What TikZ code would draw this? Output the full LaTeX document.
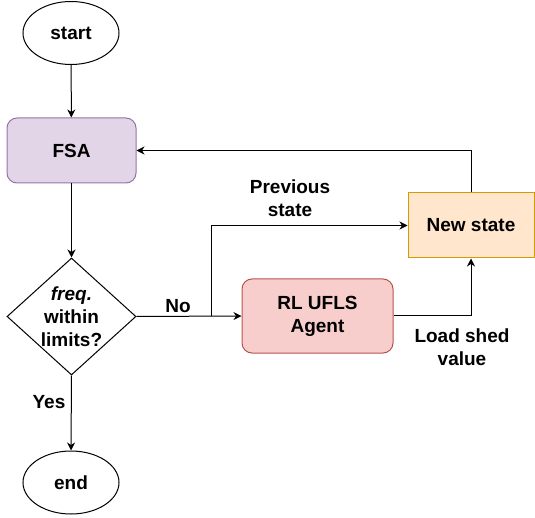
\documentclass[tikz,border=0pt]{standalone}
\usepackage{fontspec}
\setmainfont{Liberation Sans}
\usetikzlibrary{shapes.geometric,arrows.meta}
\definecolor{fsafill}{HTML}{E1D5E7}
\definecolor{fsaline}{HTML}{9673A6}
\definecolor{agentfill}{HTML}{F8CECC}
\definecolor{agentline}{HTML}{B85450}
\definecolor{statefill}{HTML}{FFE6CC}
\definecolor{stateline}{HTML}{D79B00}
\begin{document}
\begin{tikzpicture}[x=1pt,y=-1pt,
  every node/.style={font=\fontsize{19}{23}\selectfont\bfseries, align=center, inner sep=0pt},
  terminal/.style={draw, ellipse, line width=1pt, minimum width=96pt, minimum height=63pt},
  box/.style={draw, rectangle, rounded corners=10pt, line width=1pt},
  decision/.style={draw, diamond, line width=1pt, minimum width=129pt, minimum height=117pt},
  flow/.style={line width=1pt, -{Stealth[length=8pt,width=8pt,inset=2.5pt]}}
]
\useasboundingbox (0,0) rectangle (535,518);

% process nodes
\node[terminal] (start) at (71,33) {start};
\node[box, fill=fsafill, draw=fsaline, minimum width=129pt, minimum height=65pt] (fsa) at (71.5,150.5) {FSA};
\node[decision] (dec) at (71.5,316.5) {};
\node (dectext) at (71.5,316.5) {\textit{freq.}\\within\\limits?};
\node[terminal] (end) at (71,482.5) {end};
\node[box, fill=agentfill, draw=agentline, minimum width=151pt, minimum height=74pt] (agent) at (317.5,316) {RL UFLS\\Agent};
\node[rectangle, draw=stateline, fill=statefill, line width=1pt, minimum width=126pt, minimum height=65pt] (newstate) at (471,225.5) {New state};

% branch point for the previous state
\coordinate (br) at (211,316.5);

% connectors
\draw[flow] (start) -- (fsa);
\draw[flow] (fsa) -- (dec);
\draw[flow] (dec.south) -- (end.north);
\draw[flow] (dec.east) -- (agent.west);
\draw[flow] (br) |- (newstate.west);
\draw[flow] (agent.east) -| (newstate.south);
\draw[flow] (newstate.north) |- (fsa.east);

% connector labels
\node (yes) at (49,402) {Yes};
\node (no) at (178,306) {No};
\node (prev) at (290,198) {Previous\\state};
\node (shed) at (462,347) {Load shed\\value};
\end{tikzpicture}
\end{document}
